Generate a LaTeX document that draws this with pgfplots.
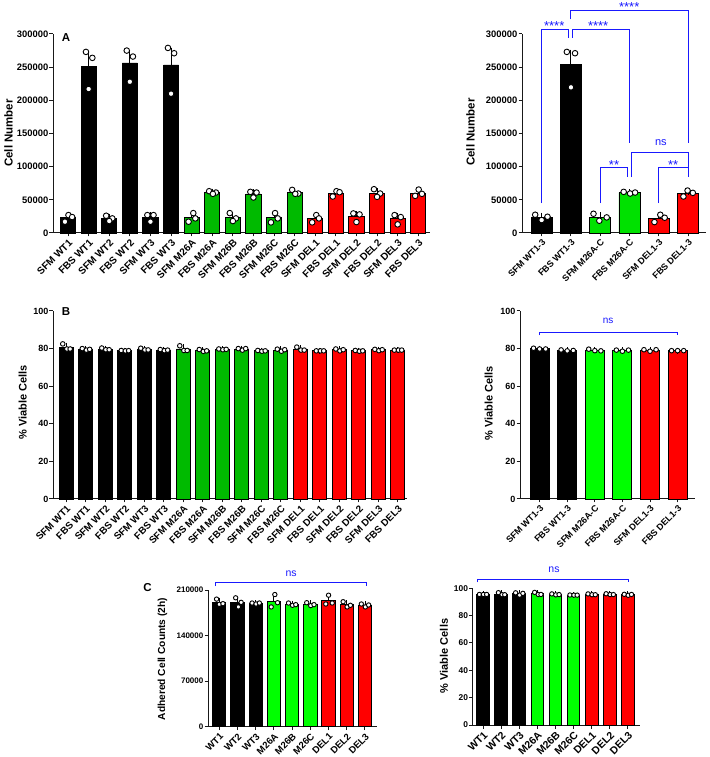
\documentclass[border=0pt]{standalone}
\usepackage{fontspec}
\setmainfont{Liberation Sans}
\usepackage{pgfplots}
\pgfplotsset{compat=1.18}

\definecolor{gpgreen}{RGB}{0,186,0}
\definecolor{gpgreenA}{RGB}{0,225,0}
\definecolor{gplime}{RGB}{0,255,0}
\definecolor{gpred}{RGB}{255,0,0}
\definecolor{gpblue}{RGB}{25,25,255}

\tikzset{brk/.style={gpblue, line width=1pt}}
\pgfplotsset{
  gp/.style={
    scale only axis, clip=false, anchor=south west,
    axis x line*=bottom, axis y line*=left,
    axis line style={line width=1pt, black!90, -},
    tick align=outside, major tick length=3.5pt,
    every tick/.style={black!90, line width=1pt},
    ymin=0, scaled y ticks=false,
    /pgf/number format/assume math mode=true,
    /pgf/number format/set thousands separator={},
    /pgf/number format/fixed,
    yticklabel style={font=\bfseries\fontsize{9.4}{10}\selectfont, inner sep=1pt},
    xticklabel style={font=\bfseries\fontsize{9}{10}\selectfont, rotate=45, anchor=north east, inner sep=1.5pt},
  },
  bars/.style={ybar, bar shift=0pt, draw=black, line width=0.9pt, fill=#1,
    error bars/.cd, y dir=plus, y explicit,
    error bar style={line width=0.9pt, black},
    error mark options={black, line width=0.9pt, mark size=3pt}},
  pts/.style={only marks, mark=*, mark size=#1,
    mark options={fill=white, draw=black, line width=0.9pt}},
}

\begin{document}
\begin{tikzpicture}
\useasboundingbox (0,0) rectangle (709pt,757pt);

% ---------- A, left
\begin{axis}[gp, at={(53pt,524pt)}, width=377pt, height=199pt,
  xmin=-0.73, xmax=17.57, ymax=300000, bar width=0.73,
  ytick={0,50000,100000,150000,200000,250000,300000},
  xticklabel style={font=\bfseries\fontsize{10}{11}\selectfont},
  xtick={0,...,17},
  xticklabels={SFM WT1,FBS WT1,SFM WT2,FBS WT2,SFM WT3,FBS WT3,SFM M26A,FBS M26A,SFM M26B,FBS M26B,SFM M26C,FBS M26C,SFM DEL1,FBS DEL1,SFM DEL2,FBS DEL2,SFM DEL3,FBS DEL3}]
\addplot[bars=black] coordinates {(0,22700) +- (0,3000) (1,251300) +- (0,17400) (2,22000) +- (0,2300)
  (3,256300) +- (0,14400) (4,23700) +- (0,3300) (5,253300) +- (0,21800)};
\addplot[bars=gpgreen] coordinates {(6,23000) +- (0,3800) (7,61000) +- (0,1200) (8,23300) +- (0,3500)
  (9,58800) +- (0,2600) (10,22700) +- (0,4100) (11,61200) +- (0,1900)};
\addplot[bars=gpred] coordinates {(12,21700) +- (0,3200) (13,59800) +- (0,2400) (14,24700) +- (0,4100)
  (15,60000) +- (0,3300) (16,21300) +- (0,4200) (17,60200) +- (0,2800)};
\addplot[pts=2.8pt] coordinates {
  (-0.15,17000) (0.02,27000) (0.2,24000)
  (0.87,273000) (1.18,264000) (1.0,217000)
  (1.85,26000) (2.15,22000) (2.0,18000)
  (2.85,275000) (3.15,266000) (3.0,228000)
  (3.85,27000) (4.15,27000) (4.0,17000)
  (4.85,279000) (5.15,271000) (5.0,210000)
  (6.08,30000) (5.85,17000) (6.18,22000)
  (6.85,63000) (7.18,61000) (7.03,59000)
  (7.85,30000) (8.15,22000) (8.0,18000)
  (8.85,62000) (9.15,61000) (9.0,53500)
  (10.05,30000) (9.85,16000) (10.18,22000)
  (10.88,65000) (11.18,59500) (11.03,59000)
  (12.05,27000) (11.85,16000) (12.18,22000)
  (12.85,55000) (13.03,63000) (13.18,61500)
  (13.85,29500) (14.15,28000) (14.0,16500)
  (14.85,66000) (15.15,59500) (15.0,54500)
  (15.85,27000) (16.15,24000) (16.0,13000)
  (16.85,56000) (17.02,65500) (17.18,59000)};
\end{axis}

% ---------- A, right
\begin{axis}[gp, at={(522pt,524pt)}, width=184pt, height=199pt,
  xmin=-0.67, xmax=5.61, ymax=300000, bar width=0.72,
  ytick={0,50000,100000,150000,200000,250000,300000},
  xtick={0,...,5},
  xticklabels={SFM WT1-3,FBS WT1-3,SFM M26A-C,FBS M26A-C,SFM DEL1-3,FBS DEL1-3}]
\addplot[bars=black] coordinates {(0,23800) +- (0,2400) (1,254500) +- (0,17500)};
\addplot[bars=gpgreenA] coordinates {(2,23700) +- (0,3100) (3,60800) +- (0,750)};
\addplot[bars=gpred] coordinates {(4,22300) +- (0,3200) (5,59800) +- (0,2600)};
\addplot[pts=2.8pt] coordinates {
  (-0.22,27500) (0,19500) (0.2,24500)
  (0.86,273000) (1.14,271000) (1.0,219600)
  (1.77,29000) (1.97,18500) (2.22,23500)
  (2.8,62000) (3.02,59500) (3.19,61000)
  (3.85,16500) (4.05,27500) (4.2,23000)
  (4.84,55000) (4.98,64000) (5.16,60500)};
\draw[brk] (axis cs:0,45200) |- (axis cs:0.91,307500) -- (axis cs:0.91,294000);
\draw[brk] (axis cs:1.06,294000) |- (axis cs:3,307500) -- (axis cs:3,135700);
\draw[brk] (axis cs:1,322000) |- (axis cs:5,334700) -- (axis cs:5,135700);
\draw[brk] (axis cs:2,45200) |- (axis cs:2.94,98000) -- (axis cs:2.94,84400);
\draw[brk] (axis cs:3.06,84400) |- (axis cs:5,122000) -- (axis cs:5,84400);
\draw[brk] (axis cs:4,45200) |- (axis cs:5,98000) -- (axis cs:5,84400);
\node[gpblue, font=\fontsize{13}{13}\selectfont] at (axis cs:0.43,312000) {****};
\node[gpblue, font=\fontsize{13}{13}\selectfont] at (axis cs:1.93,312000) {****};
\node[gpblue, font=\fontsize{13}{13}\selectfont] at (axis cs:2.99,340700) {****};
\node[gpblue, font=\fontsize{13}{13}\selectfont] at (axis cs:2.47,103000) {**};
\node[gpblue, font=\fontsize{13}{13}\selectfont] at (axis cs:4.49,103000) {**};
\node[gpblue, font=\fontsize{11}{11}\selectfont] at (axis cs:4.07,135700) {ns};
\end{axis}

% ---------- B, left
\begin{axis}[gp, at={(53pt,258pt)}, width=354pt, height=188pt,
  xmin=-0.68, xmax=17.47, ymax=100, bar width=0.72,
  ytick={0,20,40,60,80,100},
  yticklabel style={font=\bfseries\fontsize{9}{10}\selectfont},
  xticklabel style={font=\bfseries\fontsize{9.8}{10}\selectfont},
  xtick={0,...,17},
  xticklabels={SFM WT1,FBS WT1,SFM WT2,FBS WT2,SFM WT3,FBS WT3,SFM M26A,FBS M26A,SFM M26B,FBS M26B,SFM M26C,FBS M26C,SFM DEL1,FBS DEL1,SFM DEL2,FBS DEL2,SFM DEL3,FBS DEL3}]
\addplot[bars=black] coordinates {(0,80.7) +- (0,0.9) (1,79.6) +- (0,0.23) (2,79.7) +- (0,0.3)
  (3,78.9) +- (0,0.06) (4,79.6) +- (0,0.3) (5,79.2) +- (0,0.17)};
\addplot[bars=gpgreen] coordinates {(6,79.8) +- (0,0.83) (7,78.9) +- (0,0.3) (8,79.6) +- (0,0.12)
  (9,79.7) +- (0,0.27) (10,78.8) +- (0,0.12) (11,79.2) +- (0,0.33)};
\addplot[bars=gpred] coordinates {(12,79.7) +- (0,0.53) (13,78.8) +- (0,0) (14,79.3) +- (0,0.29)
  (15,78.8) +- (0,0.12) (16,79.3) +- (0,0.21) (17,79.2) +- (0,0)};
\addplot[pts=2.3pt] coordinates {
  (-0.18,82.5) (0.03,79.8) (0.2,79.8)
  (0.82,80.0) (1.03,79.2) (1.2,79.6)
  (1.82,80.3) (2.03,79.4) (2.2,79.4)
  (2.82,79.0) (3.03,78.8) (3.2,78.9)
  (3.82,80.2) (4.03,79.3) (4.2,79.3)
  (4.82,79.5) (5.03,78.9) (5.2,79.2)
  (5.82,81.5) (6.03,79.0) (6.2,79.0)
  (6.82,79.5) (7.03,78.5) (7.2,78.8)
  (7.82,79.8) (8.03,79.4) (8.2,79.6)
  (8.82,80.0) (9.03,79.2) (9.2,80.0)
  (9.82,79.0) (10.03,78.6) (10.2,78.8)
  (10.82,79.7) (11.03,78.6) (11.2,79.4)
  (11.82,80.8) (12.03,79.2) (12.2,79.2)
  (12.82,78.8) (13.03,78.8) (13.2,78.8)
  (13.82,79.8) (14.03,78.8) (14.2,79.4)
  (14.82,79.0) (15.03,78.6) (15.2,78.8)
  (15.82,79.6) (16.03,78.9) (16.2,79.4)
  (16.82,79.2) (17.03,79.2) (17.2,79.2)};
\end{axis}

% ---------- B, right
\begin{axis}[gp, at={(520pt,258pt)}, width=175pt, height=188pt,
  xmin=-0.71, xmax=5.63, ymax=100, bar width=0.69,
  ytick={0,20,40,60,80,100},
  yticklabel style={font=\bfseries\fontsize{9}{10}\selectfont},
  xtick={0,...,5},
  xticklabels={SFM WT1-3,FBS WT1-3,SFM M26A-C,FBS M26A-C,SFM DEL1-3,FBS DEL1-3}]
\addplot[bars=black] coordinates {(0,79.9) +- (0,0.13) (1,79.0) +- (0,0.15)};
\addplot[bars=gplime] coordinates {(2,79.1) +- (0,0.28) (3,79.0) +- (0,0.2)};
\addplot[bars=gpred] coordinates {(4,79.1) +- (0,0.27) (5,78.9) +- (0,0)};
\addplot[pts=2.3pt] coordinates {
  (-0.22,80.2) (0,79.8) (0.22,79.8)
  (0.78,79.3) (1,78.8) (1.22,79.0)
  (1.78,79.7) (2,78.9) (2.22,78.8)
  (2.78,79.2) (3,78.6) (3.22,79.2)
  (3.78,79.4) (4,78.6) (4.22,79.4)
  (4.78,78.9) (5,78.9) (5.22,78.9)};
\draw[brk] (axis cs:0,87) |- (axis cs:5,88.6) -- (axis cs:5,87);
\node[gpblue, font=\fontsize{10}{10}\selectfont] at (axis cs:2.48,95) {ns};
\end{axis}

% ---------- C, left
\begin{axis}[gp, at={(208pt,30.3pt)}, width=169pt, height=136.7pt,
  xmin=-0.62, xmax=8.66, ymax=210000, bar width=0.73,
  ytick={0,70000,140000,210000},
  yticklabel style={font=\bfseries\fontsize{8}{9}\selectfont},
  xticklabel style={font=\bfseries\fontsize{9.5}{10}\selectfont},
  xtick={0,...,8},
  xticklabels={WT1,WT2,WT3,M26A,M26B,M26C,DEL1,DEL2,DEL3}]
\addplot[bars=black] coordinates {(0,191000) +- (0,2500) (1,191000) +- (0,4000) (2,189500) +- (0,500)};
\addplot[bars=gplime] coordinates {(3,192500) +- (0,5500) (4,188000) +- (0,1000) (5,188000) +- (0,1300)};
\addplot[bars=gpred] coordinates {(6,193500) +- (0,4300) (7,187500) +- (0,2300) (8,186500) +- (0,1300)};
\addplot[pts=2.2pt] coordinates {
  (-0.15,196000) (0.0,188000) (0.2,189000)
  (0.9,198000) (1.05,184000) (1.2,191000)
  (1.8,190000) (2.02,188500) (2.2,190000)
  (3.05,203000) (2.85,184000) (3.2,190500)
  (3.8,190000) (4.02,186500) (4.2,187500)
  (4.8,190500) (5.02,186000) (5.2,187500)
  (6.0,202000) (5.85,188500) (6.2,190000)
  (6.8,192000) (7.02,184000) (7.2,186500)
  (7.8,188500) (8.02,184000) (8.2,187000)};
\draw[brk] (axis cs:-0.2,216000) |- (axis cs:8.1,221200) -- (axis cs:8.1,216000);
\node[gpblue, font=\fontsize{10.5}{11}\selectfont] at (axis cs:3.94,234500) {ns};
\end{axis}

% ---------- C, right
\begin{axis}[gp, at={(472.7pt,32pt)}, width=167.3pt, height=136.7pt,
  xmin=-0.57, xmax=8.67, ymax=100, bar width=0.7,
  ytick={0,20,40,60,80,100},
  yticklabel style={font=\bfseries\fontsize{8.4}{9}\selectfont},
  xticklabel style={font=\bfseries\fontsize{10.5}{11}\selectfont},
  xtick={0,...,8},
  xticklabels={WT1,WT2,WT3,M26A,M26B,M26C,DEL1,DEL2,DEL3}]
\addplot[bars=black] coordinates {(0,95.5) +- (0,0.1) (1,95.8) +- (0,0.5) (2,96.0) +- (0,0.5)};
\addplot[bars=gplime] coordinates {(3,96.0) +- (0,0.5) (4,95.5) +- (0,0.2) (5,95.0) +- (0,0.05)};
\addplot[bars=gpred] coordinates {(6,95.5) +- (0,0.2) (7,95.6) +- (0,0.2) (8,95.3) +- (0,0.2)};
\addplot[pts=2.2pt] coordinates {
  (-0.2,95.5) (0.02,95.5) (0.2,95.5)
  (0.85,96.8) (1.05,95.3) (1.2,95.3)
  (1.8,96.7) (2.02,95.0) (2.2,96.3)
  (2.85,97.0) (3.05,95.5) (3.2,95.5)
  (3.8,95.9) (4.02,95.2) (4.2,95.4)
  (4.8,95.1) (5.02,95.0) (5.2,95.0)
  (5.8,95.9) (6.02,95.3) (6.2,95.3)
  (6.8,96.0) (7.02,95.4) (7.2,95.4)
  (7.8,95.6) (8.02,94.9) (8.2,95.5)};
\draw[brk] (axis cs:-0.28,104.4) |- (axis cs:8.05,106.6) -- (axis cs:8.05,104.4);
\node[gpblue, font=\fontsize{10.5}{11}\selectfont] at (axis cs:3.92,113.4) {ns};
\end{axis}

% ---------- axis titles and panel letters
\node[rotate=90, font=\bfseries\fontsize{11.5}{12}\selectfont] at (8.5pt,624pt) {Cell Number};
\node[rotate=90, font=\bfseries\fontsize{11.5}{12}\selectfont] at (470.5pt,625pt) {Cell Number};
\node[rotate=90, font=\bfseries\fontsize{11}{12}\selectfont] at (22.8pt,354.5pt) {\% Viable Cells};
\node[rotate=90, font=\bfseries\fontsize{11}{12}\selectfont] at (488.7pt,353.7pt) {\% Viable Cells};
\node[rotate=90, font=\bfseries\fontsize{10.2}{11}\selectfont] at (162.5pt,98pt) {Adhered Cell Counts (2h)};
\node[rotate=90, font=\bfseries\fontsize{11}{12}\selectfont] at (444pt,101pt) {\% Viable Cells};
\node[font=\bfseries\fontsize{11.5}{12}\selectfont] at (66pt,719.5pt) {A};
\node[font=\bfseries\fontsize{11.5}{12}\selectfont] at (66pt,445pt) {B};
\node[font=\bfseries\fontsize{11.5}{12}\selectfont] at (147.5pt,169.5pt) {C};
\end{tikzpicture}
\end{document}
